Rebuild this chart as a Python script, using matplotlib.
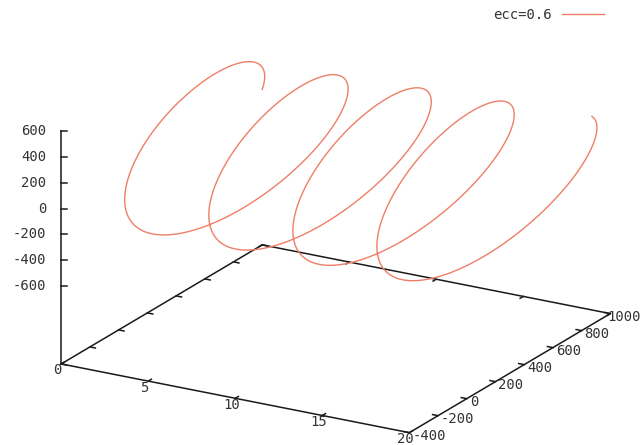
import numpy as np
import matplotlib
matplotlib.use("Agg")
import matplotlib.pyplot as plt
from matplotlib.lines import Line2D

# ---------------- data ----------------
series_label = "ecc=0.6"
eccentricity = 0.6
semi_major = 625.0          # apoapsis a(1+e) = 1000, periapsis a(1-e) = 250
orbit_period = 4.85         # time units per revolution
precession_deg_per_orbit = 3.0
t_end = 19.9
n_samples = 2000

x_range = (0, 20)
y_range = (-400, 1000)
z_range = (-600, 600)
ticslevel = 0.5
x_ticks = [0, 5, 10, 15, 20]
y_ticks = [-400, -200, 0, 200, 400, 600, 800, 1000]
z_ticks = [-600, -400, -200, 0, 200, 400, 600]

# ---------------- orbit (Kepler) ----------------
t = np.linspace(0, t_end, n_samples)
M = np.pi + 2 * np.pi * t / orbit_period
E = M.copy()
for _ in range(60):
    E = E - (E - eccentricity * np.sin(E) - M) / (1 - eccentricity * np.cos(E))
b_axis = semi_major * np.sqrt(1 - eccentricity ** 2)
y_orb = semi_major * (eccentricity - np.cos(E))
z_orb = -b_axis * np.sin(E)
omega = np.deg2rad(precession_deg_per_orbit) * t / orbit_period
xs = t
ys = y_orb * np.cos(omega) - z_orb * np.sin(omega)
zs = y_orb * np.sin(omega) + z_orb * np.cos(omega)

# ---------------- figure ----------------
W, H = 642, 445
fig = plt.figure(figsize=(W / 100, H / 100), dpi=100)
S = 445
ax = fig.add_axes([107.25 / W, -5.75 / H, S / W, S / H], projection="3d",
                  proj_type="ortho", computed_zorder=False)
ax.set_box_aspect((1, 1, 0.617), zoom=1.353)
ax.view_init(elev=20, azim=-60)
zbase = z_range[0] - ticslevel * (z_range[1] - z_range[0])
ax.set_xlim(*x_range)
ax.set_ylim(*y_range)
ax.set_zlim(zbase, z_range[1])
ax.set_axis_off()

axc = "#1a1a1a"
txtc = "#333333"
alw = 1.1
fsize = 10
font = dict(family="DejaVu Sans Mono", size=fsize, color=txtc)
char_px = 0.602 * fsize * 100 / 72   # monospace advance in pixels

x0, x1 = x_range
y0, y1 = y_range
dx = x1 - x0
dy = y1 - y0
L_PX = 402.0                       # on-screen length of a box edge
hx = 0.866 * dx / L_PX             # data step per pixel, screen-horizontal
hy = 0.5 * dy / L_PX

line_kw = dict(color=axc, lw=alw, zorder=1, clip_on=False)
# base border
ax.plot([x0, x1, x1, x0, x0], [y0, y0, y1, y1, y0], [zbase] * 5, **line_kw)
# z axis
ax.plot([x0, x0], [y0, y0], [zbase, z_range[1]], **line_kw)

tl = 1 / 64
for xv in x_ticks:
    ax.plot([xv, xv], [y0, y0 + tl * dy], [zbase, zbase], **line_kw)
    ax.plot([xv, xv], [y1, y1 - tl * dy], [zbase, zbase], **line_kw)
for yv in y_ticks:
    ax.plot([x1, x1 - tl * dx], [yv, yv], [zbase, zbase], **line_kw)
    ax.plot([x0, x0 + tl * dx], [yv, yv], [zbase, zbase], **line_kw)
for zv in z_ticks:
    ax.plot([x0, x0 + 6 * hx], [y0, y0 + 6 * hy], [zv, zv], **line_kw)

curve_color = "#EE7F66"
ax.plot(xs, ys, zs, color=curve_color, lw=1.0, zorder=3, clip_on=False)

# ---- tick labels: project tick anchors to figure pixels ----
fig.canvas.draw()
Mproj = ax.get_proj()


def to_px(x, y, z):
    v = Mproj @ np.array([x, y, z, 1.0])
    X, Y = v[0] / v[3], v[1] / v[3]
    return ax.transData.transform((X, Y))


def label(x, y, z, s, ox, oy, ha, va):
    px, py = to_px(x, y, z)
    px += ox
    py += oy
    if ha == "left":
        px = min(px, W - 1.5 - len(s) * char_px)
    fig.text(px / W, py / H, s, ha=ha, va=va, **font)


for xv in x_ticks:
    label(xv, y0, zbase, str(xv), -4, -6.5, "center", "center")
for yv in y_ticks:
    label(x1, yv, zbase, str(yv), 3, -3, "left", "center")
for zv in z_ticks:
    label(x0, y0, zv, str(zv), -15, 0, "right", "center")

handle = Line2D([], [], color=curve_color, lw=1.0)
fig.legend([handle], [series_label], loc="center right",
           bbox_to_anchor=(604 / W, 1 - 15 / H), frameon=False,
           markerfirst=False, handlelength=3.0, handletextpad=0.75,
           borderpad=0, borderaxespad=0,
           prop=dict(family="DejaVu Sans Mono", size=fsize), labelcolor=txtc)

fig.savefig("out.png", dpi=100)
